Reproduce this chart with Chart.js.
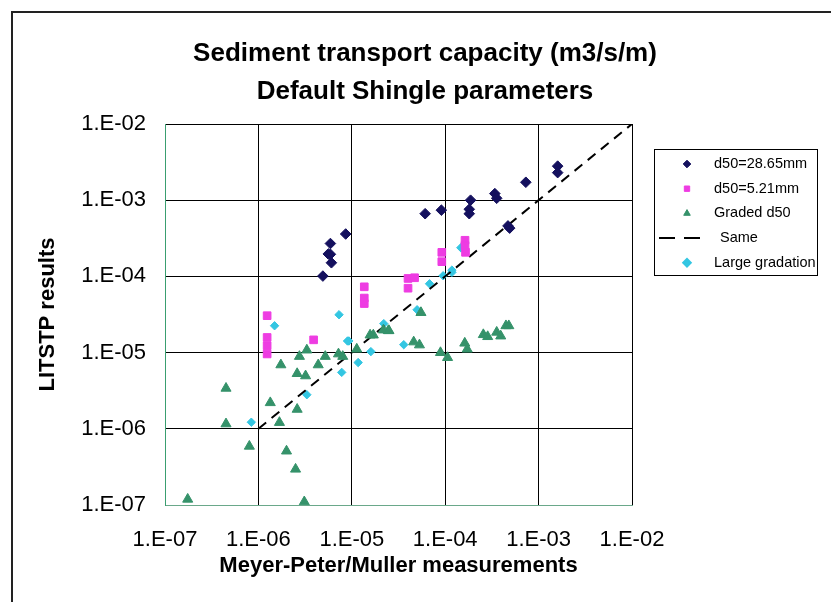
<!DOCTYPE html>
<html>
<head>
<meta charset="utf-8">
<script src="https://cdn.jsdelivr.net/npm/chart.js@4/dist/chart.umd.min.js"></script>
<style>
  html, body { margin: 0; padding: 0; background: #fff; }
  #wrap { width: 831px; height: 602px; position: relative; }
</style>
</head>
<body>
<div id="wrap"><canvas id="c"></canvas></div>
<script>
// chart texts
var titleLines = ["Sediment transport capacity (m3/s/m)", "Default Shingle parameters"];
var xTitle = "Meyer-Peter/Muller measurements";
var yTitle = "LITSTP results";

// axis decades and their labels
var tickValues = [1e-7, 1e-6, 1e-5, 1e-4, 1e-3, 1e-2];
var tickLabels = ["1.E-07", "1.E-06", "1.E-05", "1.E-04", "1.E-03", "1.E-02"];

// series names
var seriesNames = ["d50=28.65mm", "d50=5.21mm", "Graded d50", "Same", "Large gradation"];

// d50=28.65mm
var coarseX = [8.6e-6, 5.9e-6, 5.6e-6, 5.9e-6, 6.05e-6, 4.9e-6, 6.1e-5, 9.1e-5, 1.87e-4, 1.81e-4, 1.81e-4, 3.4e-4, 3.56e-4, 7.3e-4, 1.6e-3, 1.6e-3, 4.9e-4, 4.7e-4];
var coarseY = [3.6e-4, 2.7e-4, 1.97e-4, 1.95e-4, 1.51e-4, 1.01e-4, 6.65e-4, 7.4e-4, 1.0e-3, 7.6e-4, 6.65e-4, 1.22e-3, 1.06e-3, 1.72e-3, 2.8e-3, 2.3e-3, 4.3e-4, 4.6e-4];

// d50=5.21mm
var fineX = [1.36e-5, 1.36e-5, 1.36e-5, 1.24e-6, 1.24e-6, 1.24e-6, 1.24e-6, 3.9e-6, 4.0e-5, 4.7e-5, 4.0e-5, 9.2e-5, 9.2e-5, 1.63e-4, 1.63e-4, 1.65e-4];
var fineY = [7.3e-5, 5.2e-5, 4.4e-5, 3.05e-5, 1.58e-5, 1.23e-5, 9.6e-6, 1.47e-5, 9.4e-5, 9.6e-5, 7.0e-5, 2.07e-4, 1.56e-4, 2.98e-4, 2.54e-4, 2.07e-4];

// Graded d50
var gradedX = [3.3e-6, 2.75e-6, 5.2e-6, 7.2e-6, 8.0e-6, 1.13e-5, 1.74e-6, 4.37e-6, 2.6e-6, 3.2e-6, 4.5e-7, 1.34e-6, 2.6e-6, 4.5e-7, 1.68e-6, 8.0e-7, 2.0e-6, 2.5e-6, 3.1e-6, 1.75e-7, 1.57e-5, 1.7e-5, 2.46e-5, 2.18e-5, 2.5e-5, 5.5e-5, 4.6e-5, 5.3e-5, 8.9e-5, 1.06e-4, 1.62e-4, 1.72e-4, 2.56e-4, 2.85e-4, 3.56e-4, 3.93e-4, 4.47e-4, 4.8e-4];
var gradedY = [1.08e-5, 8.9e-6, 8.9e-6, 9.6e-6, 8.9e-6, 1.11e-5, 6.9e-6, 6.9e-6, 5.3e-6, 4.95e-6, 3.4e-6, 2.2e-6, 1.8e-6, 1.16e-6, 1.21e-6, 5.9e-7, 5.1e-7, 2.95e-7, 1.1e-7, 1.19e-7, 1.7e-5, 1.7e-5, 1.94e-5, 1.98e-5, 1.94e-5, 3.35e-5, 1.38e-5, 1.26e-5, 1.0e-5, 8.6e-6, 1.33e-5, 1.11e-5, 1.72e-5, 1.62e-5, 1.85e-5, 1.65e-5, 2.25e-5, 2.25e-5];

// Same (1:1 line)
var sameX = [1e-6, 1e-2];
var sameY = [1e-6, 1e-2];

// Large gradation
var wideX = [7.3e-6, 1.49e-6, 9.0e-6, 9.3e-6, 1.6e-5, 1.17e-5, 7.8e-6, 3.3e-6, 8.4e-7, 2.2e-5, 1.47e-4, 1.18e-4, 1.18e-4, 9.5e-5, 6.8e-5, 5.0e-5, 3.6e-5];
var wideY = [3.14e-5, 2.25e-5, 1.42e-5, 1.42e-5, 1.03e-5, 7.4e-6, 5.5e-6, 2.8e-6, 1.22e-6, 2.4e-5, 2.38e-4, 1.21e-4, 1.13e-4, 1.02e-4, 8.0e-5, 3.65e-5, 1.27e-5];

var colorList = ["#14105e", "#ee3ce2", "#35926a", "#000000", "#33c6e2"];

const toPoints = (xs, ys) => xs.map((v, i) => ({x: v, y: ys[i]}));

const chartFont = "'Liberation Sans', Arial, sans-serif";
Chart.defaults.font.family = chartFont;
Chart.defaults.color = "#000";

// outer frame of the chart object
const framePlugin = {
    id: "frame",
    beforeDraw(chart) {
        const ctx = chart.ctx;
        ctx.save();
        ctx.fillStyle = "#fff";
        ctx.fillRect(0, 0, chart.width, chart.height);
        ctx.strokeStyle = "#222";
        ctx.lineWidth = 2;
        ctx.strokeRect(12, 12, chart.width + 20, chart.height + 20);
        ctx.restore();
    }
};

// boxed legend at the right side
const boxLegend = {
    id: "boxLegend",
    afterDraw(chart) {
        const ctx = chart.ctx;
        const left = 654, top = 149, right = 817, bottom = 275;
        ctx.save();
        ctx.strokeStyle = "#000";
        ctx.lineWidth = 1;
        ctx.strokeRect(left + 0.5, top + 0.5, right - left, bottom - top);
        ctx.font = "14.5px " + chartFont;
        ctx.textBaseline = "middle";
        ctx.textAlign = "left";
        chart.data.datasets.forEach((ds, i) => {
            var y = 164 + i * 24.7;
            if (ds.showLine) {
                ctx.strokeStyle = ds.borderColor;
                ctx.lineWidth = 2;
                ctx.setLineDash([16, 9]);
                ctx.beginPath();
                ctx.moveTo(659, y);
                ctx.lineTo(700, y);
                ctx.stroke();
                ctx.setLineDash([]);
                ctx.fillStyle = "#000";
                ctx.fillText(ds.label, 720, y);
            } else {
                ctx.fillStyle = ds.backgroundColor;
                ctx.strokeStyle = ds.borderColor;
                Chart.helpers.drawPoint(ctx, {pointStyle: ds.pointStyle, radius: 3.8, borderWidth: 1, rotation: 0}, 687, y);
                ctx.fillStyle = "#000";
                ctx.fillText(ds.label, 714, y);
            }
        });
        ctx.restore();
    }
};

const decadeTicks = (scale) => {
    scale.ticks = tickValues.map(v => ({value: v}));
};

new Chart("c", {
    type: "scatter",
    data: {
        datasets: [
            {label: seriesNames[0], data: toPoints(coarseX, coarseY), pointStyle: "rectRot", pointRadius: 5.3,
             backgroundColor: colorList[0], borderColor: colorList[0], borderWidth: 1},
            {label: seriesNames[1], data: toPoints(fineX, fineY), pointStyle: "rect", pointRadius: 5.4,
             backgroundColor: colorList[1], borderColor: colorList[1], borderWidth: 1},
            {label: seriesNames[2], data: toPoints(gradedX, gradedY), pointStyle: "triangle", pointRadius: 5.8,
             backgroundColor: colorList[2], borderColor: colorList[2], borderWidth: 1},
            {label: seriesNames[3], data: toPoints(sameX, sameY), showLine: true, pointRadius: 0,
             borderColor: colorList[3], backgroundColor: colorList[3], borderWidth: 2, borderDash: [10, 7], fill: false},
            {label: seriesNames[4], data: toPoints(wideX, wideY), pointStyle: "rectRot", pointRadius: 4.2,
             backgroundColor: colorList[4], borderColor: colorList[4], borderWidth: 1}
        ]
    },
    options: {
        animation: false,
        responsive: true,
        maintainAspectRatio: false,
        layout: {padding: {left: 19, right: 0, top: 0, bottom: 0}},
        plugins: {
            legend: {display: false},
            tooltip: {enabled: false},
            title: {
                display: true,
                text: titleLines,
                color: "#000",
                font: {size: 26, weight: "bold", lineHeight: 38 / 26},
                padding: {top: 35, bottom: 13}
            }
        },
        scales: {
            x: {
                type: "logarithmic",
                position: "bottom",
                min: 1e-7,
                max: 1e-2,
                afterBuildTicks: decadeTicks,
                afterFit: (s) => { s.height = 97; },
                grid: {color: "#000", lineWidth: 1, drawTicks: false},
                border: {color: "#6aa88a", width: 1},
                ticks: {
                    color: "#000",
                    padding: 22,
                    maxRotation: 0,
                    autoSkip: false,
                    font: {size: 22},
                    callback: (v, i) => tickLabels[i]
                },
                title: {display: true, text: xTitle, color: "#000", font: {size: 22, weight: "bold"}, padding: {top: 0, bottom: 23}}
            },
            y: {
                type: "logarithmic",
                position: "left",
                min: 1e-7,
                max: 1e-2,
                afterBuildTicks: decadeTicks,
                afterFit: (s) => { s.width = 146; },
                grid: {color: "#000", lineWidth: 1, drawTicks: false},
                border: {color: "#3a9e70", width: 1},
                ticks: {
                    color: "#000",
                    padding: 19,
                    autoSkip: false,
                    font: {size: 22},
                    callback: (v, i) => tickLabels[i]
                },
                title: {display: true, text: yTitle, color: "#000", font: {size: 22, weight: "bold"}, padding: {top: 16, bottom: 0}}
            },
            // empty right-hand strip that holds the legend box
            side: {
                type: "linear",
                position: "right",
                display: true,
                afterFit: (s) => { s.width = 199; },
                grid: {display: false},
                border: {display: false},
                ticks: {display: false}
            }
        }
    },
    plugins: [framePlugin, boxLegend]
});
</script>
</body>
</html>
